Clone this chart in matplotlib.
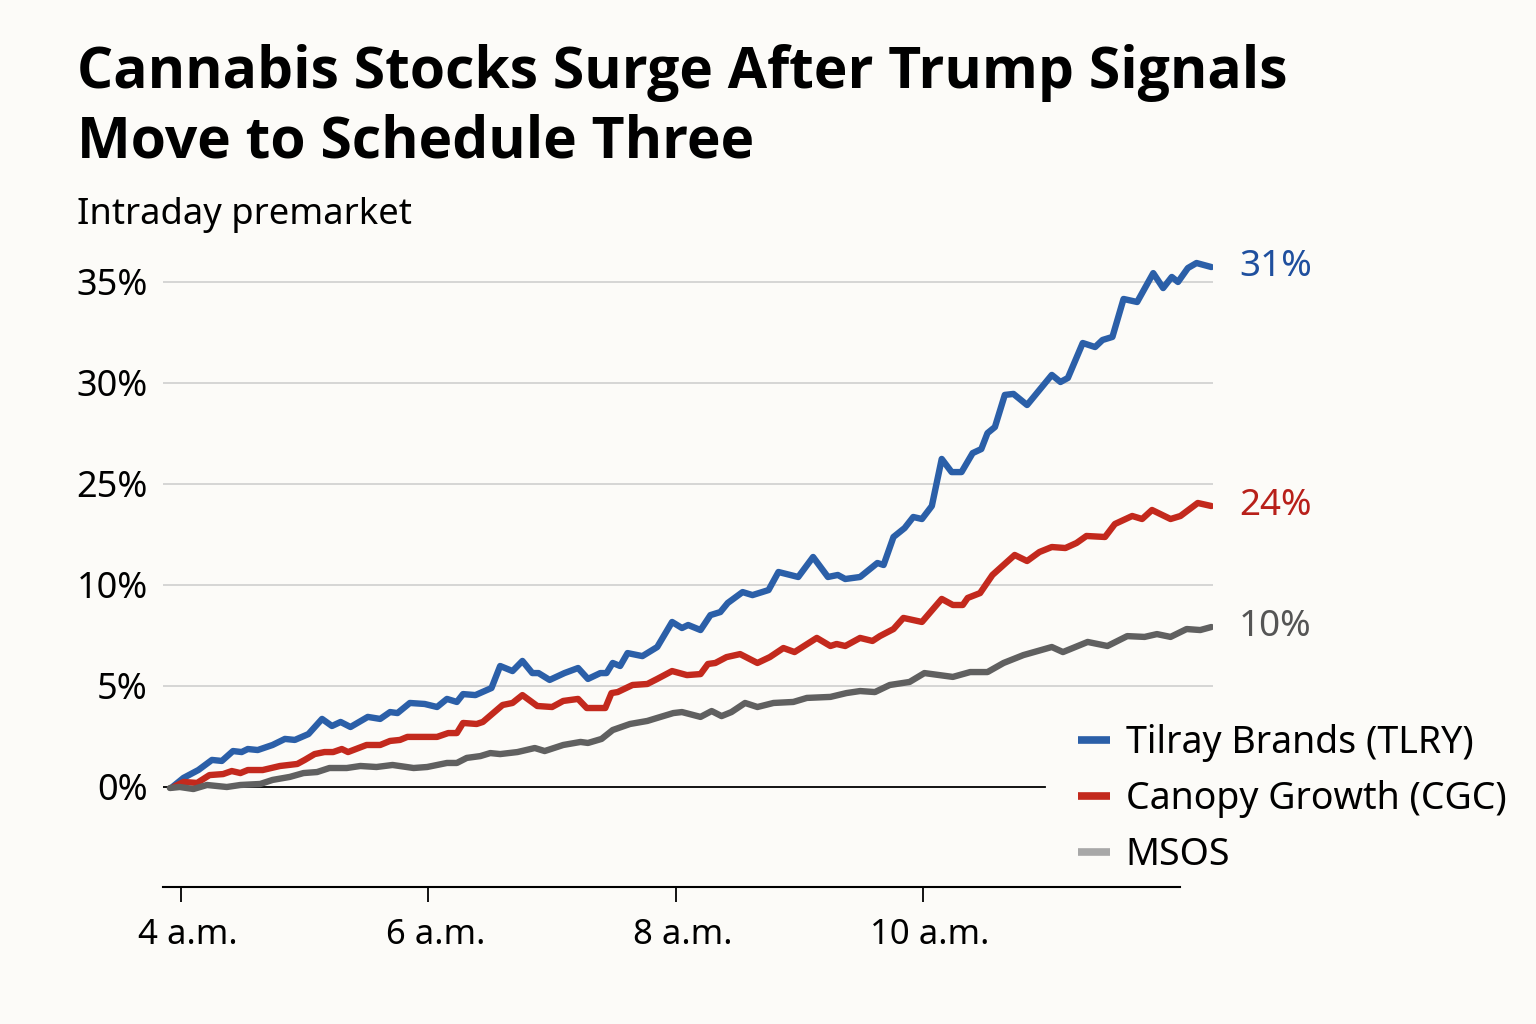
import numpy as np
import matplotlib.pyplot as plt
from matplotlib.transforms import ScaledTranslation

plt.rcParams['font.family'] = ['Noto Sans', 'DejaVu Sans']

# hours (decimal, local time) and % change
tlry_t = [3.93, 4.02, 4.14, 4.25, 4.33, 4.42, 4.49, 4.54, 4.62, 4.74, 4.84, 4.92,
          5.03, 5.14, 5.22, 5.29, 5.37, 5.51, 5.61, 5.69, 5.75, 5.85, 5.97, 6.07,
          6.15, 6.23, 6.28, 6.38, 6.51, 6.58, 6.68, 6.76, 6.84, 6.89, 6.98, 7.10,
          7.21, 7.29, 7.39, 7.44, 7.49, 7.55, 7.61, 7.73, 7.85, 7.97, 8.05, 8.10,
          8.20, 8.28, 8.36, 8.42, 8.54, 8.62, 8.75, 8.83, 8.99, 9.11, 9.23, 9.31,
          9.37, 9.49, 9.63, 9.68, 9.76, 9.85, 9.92, 9.99, 10.07, 10.15, 10.23, 10.31,
          10.40, 10.47, 10.52, 10.58, 10.66, 10.73, 10.84, 11.04, 11.11, 11.17, 11.29, 11.39,
          11.45, 11.53, 11.62, 11.73, 11.86, 11.94, 12.01, 12.06, 12.14, 12.21, 12.33]
tlry_v = [0.0, 0.45, 0.84, 1.34, 1.29, 1.78, 1.73, 1.88, 1.83, 2.08, 2.38, 2.33,
          2.62, 3.37, 3.02, 3.22, 2.97, 3.47, 3.37, 3.71, 3.66, 4.16, 4.11, 3.96,
          4.36, 4.21, 4.60, 4.55, 4.90, 5.99, 5.74, 6.24, 5.64, 5.64, 5.30, 5.64,
          5.89, 5.35, 5.64, 5.64, 6.14, 5.99, 6.63, 6.48, 6.93, 8.17, 7.87, 8.02,
          7.77, 8.51, 8.66, 9.11, 9.65, 9.50, 9.75, 11.93, 11.19, 14.16, 11.19, 11.49,
          10.89, 11.19, 13.27, 12.97, 17.13, 18.46, 20.10, 19.80, 21.73, 26.24, 25.59, 25.59,
          26.53, 26.73, 27.52, 27.82, 29.41, 29.46, 28.91, 30.40, 30.05, 30.25, 31.98, 31.78,
          32.13, 32.28, 34.16, 34.01, 35.44, 34.70, 35.25, 35.00, 35.69, 35.94, 35.74]

cgc_t = [3.94, 4.02, 4.13, 4.23, 4.34, 4.41, 4.48, 4.54, 4.66, 4.80, 4.94, 5.00,
         5.08, 5.16, 5.23, 5.30, 5.35, 5.50, 5.61, 5.69, 5.77, 5.83, 6.07, 6.16,
         6.23, 6.28, 6.39, 6.44, 6.60, 6.68, 6.76, 6.88, 7.00, 7.09, 7.21, 7.28,
         7.43, 7.48, 7.53, 7.65, 7.77, 7.85, 7.97, 8.09, 8.20, 8.26, 8.32, 8.41,
         8.52, 8.66, 8.76, 8.87, 8.96, 9.14, 9.25, 9.30, 9.37, 9.49, 9.59, 9.65,
         9.76, 9.84, 9.99, 10.15, 10.24, 10.32, 10.36, 10.46, 10.56, 10.74, 10.84, 10.94,
         11.04, 11.15, 11.24, 11.32, 11.47, 11.55, 11.69, 11.77, 11.85, 12.00, 12.08, 12.22,
         12.33]
cgc_v = [0.0, 0.25, 0.20, 0.59, 0.64, 0.79, 0.69, 0.84, 0.84, 1.04, 1.14, 1.34,
         1.63, 1.73, 1.73, 1.88, 1.73, 2.08, 2.08, 2.28, 2.33, 2.48, 2.48, 2.67,
         2.67, 3.17, 3.12, 3.22, 4.06, 4.16, 4.55, 4.01, 3.96, 4.26, 4.36, 3.91,
         3.91, 4.65, 4.70, 5.05, 5.10, 5.35, 5.74, 5.54, 5.59, 6.09, 6.14, 6.43,
         6.58, 6.14, 6.43, 6.88, 6.68, 7.38, 6.98, 7.08, 6.98, 7.38, 7.23, 7.47,
         7.82, 8.37, 8.17, 9.31, 9.01, 9.01, 9.36, 9.60, 11.49, 14.46, 13.56, 14.90,
         15.64, 15.49, 16.24, 17.28, 17.13, 19.06, 20.25, 19.80, 21.14, 19.80, 20.25, 22.18,
         21.73]

msos_t = [3.91, 3.99, 4.10, 4.21, 4.37, 4.48, 4.64, 4.74, 4.88, 4.99, 5.10, 5.20,
          5.34, 5.45, 5.58, 5.71, 5.88, 5.99, 6.15, 6.23, 6.31, 6.42, 6.50, 6.58,
          6.72, 6.86, 6.94, 7.09, 7.23, 7.29, 7.40, 7.49, 7.63, 7.77, 7.85, 7.98,
          8.05, 8.20, 8.29, 8.37, 8.45, 8.56, 8.66, 8.79, 8.95, 9.06, 9.25, 9.38,
          9.49, 9.61, 9.73, 9.89, 10.01, 10.24, 10.38, 10.52, 10.65, 10.81, 11.04, 11.13,
          11.33, 11.49, 11.65, 11.79, 11.89, 12.00, 12.13, 12.24, 12.33]
msos_v = [-0.05, 0.0, -0.10, 0.10, 0.00, 0.10, 0.15, 0.35, 0.50, 0.69, 0.74, 0.94,
          0.94, 1.04, 0.99, 1.09, 0.94, 0.99, 1.19, 1.19, 1.44, 1.53, 1.68, 1.63,
          1.73, 1.93, 1.78, 2.08, 2.23, 2.18, 2.38, 2.82, 3.12, 3.27, 3.42, 3.66,
          3.71, 3.47, 3.76, 3.51, 3.71, 4.16, 3.96, 4.16, 4.21, 4.41, 4.46, 4.65,
          4.75, 4.70, 5.05, 5.20, 5.64, 5.45, 5.69, 5.69, 6.14, 6.53, 6.93, 6.68,
          7.18, 6.98, 7.47, 7.43, 7.57, 7.43, 7.82, 7.77, 7.92]

names = ['Tilray Brands (TLRY)', 'Canopy Growth (CGC)', 'MSOS']
end_labels = ['31%', '24%', '10%']
colors = ['#2b5fa8', '#c3291d', '#606060']
label_colors = ['#1f4f9e', '#b8201a', '#555555']
legend_colors = ['#2b5fa8', '#c3291d', '#a8a8a8']

y_ticks = [0, 5, 10, 25, 30, 35]
y_ticklabels = ['0%', '5%', '10%', '25%', '30%', '35%']
x_ticks = [4, 6, 8, 10]
x_ticklabels = ['4 a.m.', '6 a.m.', '8 a.m.', '10 a.m.']

# the chart spaces its gridlines evenly though the steps are uneven
pos = np.arange(len(y_ticks))


def fwd(v):
    v = np.asarray(v, dtype=float)
    out = np.interp(v, y_ticks, pos)
    out = np.where(v < y_ticks[0], v / 5.0, out)
    out = np.where(v > y_ticks[-1], pos[-1] + (v - y_ticks[-1]) / 5.0, out)
    return out


def inv(p):
    p = np.asarray(p, dtype=float)
    out = np.interp(p, pos, y_ticks)
    out = np.where(p < 0, p * 5.0, out)
    out = np.where(p > pos[-1], y_ticks[-1] + (p - pos[-1]) * 5.0, out)
    return out


bg = '#fcfbf8'
fig = plt.figure(figsize=(15.36, 10.24), dpi=100, facecolor=bg)
ax = fig.add_axes([0.1061, 0.1338, 0.6836, 0.6204], facecolor=bg)
ax.set_yscale('function', functions=(fwd, inv))
ax.set_xlim(3.854, 12.343)
ax.set_ylim(-4.95, 36.5)

for t in y_ticks[1:]:
    ax.axhline(t, color='#cfcfcf', lw=1.2, zorder=1)
ax.axhline(0, xmin=0, xmax=0.84, color='black', lw=1.3, zorder=1)

series = [(tlry_t, tlry_v), (cgc_t, cgc_v), (msos_t, msos_v)]
for (t, v), c, lc, lab in zip(series, colors, label_colors, end_labels):
    ax.plot(t, v, color=c, lw=4.6, solid_joinstyle='round', solid_capstyle='round', zorder=3)
    ax.annotate(lab, xy=(t[-1], v[-1]), xytext=(20, 0), textcoords='offset points',
                va='center', ha='left', fontsize=26.5, color=lc, annotation_clip=False)

ax.set_yticks(y_ticks)
ax.set_yticklabels(y_ticklabels)
ax.set_xticks(x_ticks)
ax.set_xticklabels(x_ticklabels)
ax.tick_params(axis='y', length=0, pad=11, labelsize=26)
ax.tick_params(axis='x', length=11, width=1.3, pad=11, labelsize=25, direction='out')
ax.minorticks_off()
offset = ScaledTranslation(7 / 100, 0, fig.dpi_scale_trans)
for lbl in ax.get_xticklabels():
    lbl.set_transform(lbl.get_transform() + offset)

for s in ['top', 'right', 'left']:
    ax.spines[s].set_visible(False)
ax.spines['bottom'].set_linewidth(1.5)
x0, x1 = ax.get_xlim()
ax.spines['bottom'].set_bounds(x0, x0 + 0.9686 * (x1 - x0))

handles = [plt.Line2D([], [], color=c, lw=5.5, solid_capstyle='butt') for c in legend_colors]
fig.legend(handles, names, loc='center left', bbox_to_anchor=(0.7018, 0.2197),
           frameon=False, fontsize=27, handlelength=0.85, handletextpad=0.42,
           labelspacing=0.48, borderpad=0, borderaxespad=0)

fig.text(0.05, 0.957, 'Cannabis Stocks Surge After Trump Signals\nMove to Schedule Three',
         fontsize=41, fontweight='bold', family=['Open Sans', 'DejaVu Sans'],
         va='top', ha='left', linespacing=1.27)
fig.text(0.05, 0.79, 'Intraday premarket', fontsize=26.2, va='center', ha='left')

fig.savefig('out.png', dpi=100, facecolor=bg)
